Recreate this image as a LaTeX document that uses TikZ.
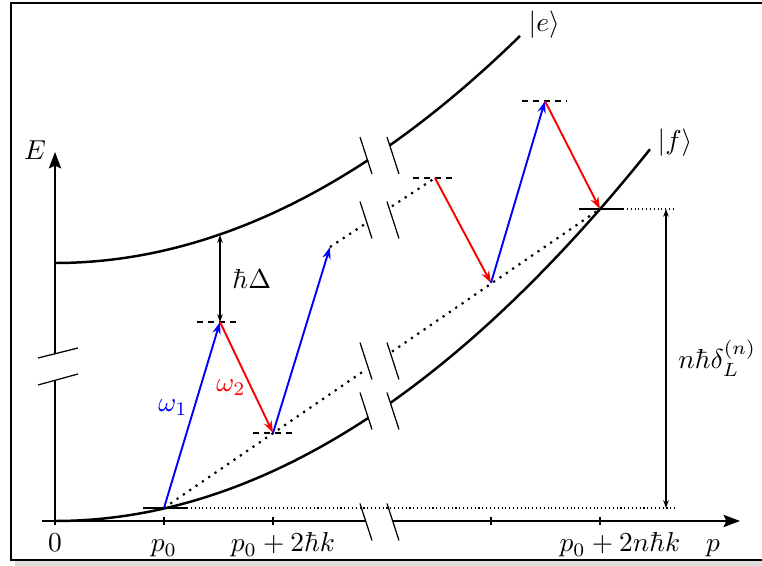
\documentclass[tikz,border=0pt]{standalone}
\usetikzlibrary{arrows.meta,calc}
\begin{document}
\begin{tikzpicture}[x=0.365pt,y=-0.365pt,
  curve/.style={line width=0.9pt},
  axis/.style={line width=0.45pt},
  brk/.style={line width=0.45pt},
  lvl/.style={line width=0.5pt,dash pattern=on 2.2pt off 1.8pt},
  solidlvl/.style={line width=0.6pt},
  trans/.style={line width=0.7pt,-{Stealth[length=4.4pt,width=3pt]}},
  gaparrow/.style={line width=0.45pt,{Stealth[length=2.8pt,width=2pt]}-{Stealth[length=2.8pt,width=2pt]}},
  bigdot/.style={line width=0.8pt,dotted},
  finedot/.style={line width=0.4pt,densely dotted},
  axistip/.style={-{Stealth[length=6pt,width=4.5pt,inset=1pt]}}]
\useasboundingbox (0,0) rectangle (762,566);
% frame with shadow
\fill[gray!25] (15,560) rectangle (762,566);
\draw[line width=0.5pt,fill=white] (11,3) rectangle (775,560);

% states
\coordinate (g0) at (164,508);
\coordinate (v1) at (220,322);
\coordinate (g1) at (273,433);
\coordinate (v2) at (330,247);
\coordinate (v3) at (435,178);
\coordinate (g3) at (491,283);
\coordinate (v4) at (545,101);
\coordinate (g4) at (600,209);
\coordinate (eD) at (220,235);
\coordinate (dTop) at (666,209);
\coordinate (dBot) at (666,508);

% axes
\coordinate (o) at (55,521);
\draw[axis] (55,525) -- (55,380.3);
\draw[axis,axistip] (55,353.8) -- (55,152) coordinate (Etip);
\draw[axis] (42,521) -- (365.7,521);
\draw[axis,axistip] (392.7,521) -- (740,521) coordinate (ptip);
\foreach \t in {164,273,491,600} \draw[axis] (\t,517) -- (\t,525);
% vertical axis break
\draw[brk] (38,358) -- (78,348);
\draw[brk] (38,385) -- (78,374);
% breaks at x ~ 366 and 393
\foreach \yc in {155.5,220,361,411,522} {
  \draw[brk] (360,\yc-18.5) -- (372,\yc+18.5);
  \draw[brk] (387,\yc-18.5) -- (399,\yc+18.5);
}

% dispersion curves
\draw[curve] plot[domain=55:368,samples=60] (\x,{263-10.5*((\x-55)/100)^2});
\draw[curve] plot[domain=389.6:520,samples=40] (\x,{263-10.5*((\x-55)/100)^2});
\draw[curve] plot[domain=55:368,samples=60] (\x,{521-10.5*((\x-55)/100)^2});
\draw[curve] plot[domain=390.5:650,samples=60] (\x,{521-10.5*((\x-55)/100)^2});

% dotted lines
\draw[bigdot] (g0) -- ($(g0)!0.4633!(g4)$);
\draw[bigdot] ($(g0)!0.523!(g4)$) -- (g4);
\draw[bigdot] (v2) -- ($(v2)!0.324!(v3)$);
\draw[bigdot] ($(v2)!0.59!(v3)$) -- (v3);
\draw[finedot] ($(g0)+(23,0)$) -- (676,508);
\draw[finedot] ($(g4)+(23,0)$) -- (676,209);

% levels
\draw[solidlvl] ($(g0)+(-21,0)$) -- ($(g0)+(23,0)$);
\draw[solidlvl] ($(g4)+(-21,0)$) -- ($(g4)+(23,0)$);
\draw[lvl] ($(v1)+(-23,0)$) -- ($(v1)+(19,0)$);
\draw[lvl] ($(g1)+(-20,0)$) -- ($(g1)+(20,0)$);
\draw[lvl] ($(v3)+(-22,0)$) -- ($(v3)+(21,0)$);
\draw[lvl] ($(v4)+(-23,0)$) -- ($(v4)+(21,0)$);

% transitions
\draw[trans,blue] (g0) -- (v1);
\draw[trans,red] (v1) -- (g1);
\draw[trans,blue] (g1) -- (v2);
\draw[trans,red] (v3) -- (g3);
\draw[trans,blue] (g3) -- (v4);
\draw[trans,red] (v4) -- (g4);

% gaps
\draw[gaparrow] (eD) -- (v1) node[midway,right=1pt] (lDelta) {$\hbar\Delta$};
\draw[gaparrow] (dTop) -- (dBot) node[midway,right=1pt] (lDelta2) {$n\hbar\delta_L^{(n)}$};

% labels
\node[blue] (lw1) at (173,408) {$\omega_1$};
\node[red] (lw2) at (231,388) {$\omega_2$};
\node[anchor=west] (le) at (519,25) {$|e\rangle$};
\node[anchor=west] (lf) at (648,143) {$|f\rangle$};
\node (lE) at (35,150) {$E$};
\node[anchor=base] (l0) at (55,552) {$0$};
\node[anchor=base] (lp0) at (164,552) {$p_0$};
\node[anchor=base] (lp1) at (283,552) {$p_0+2\hbar k$};
\node[anchor=base] (lpn) at (620,552) {$p_0+2n\hbar k$};
\node[anchor=base] (lp) at (713,552) {$p$};
\end{tikzpicture}
\end{document}
